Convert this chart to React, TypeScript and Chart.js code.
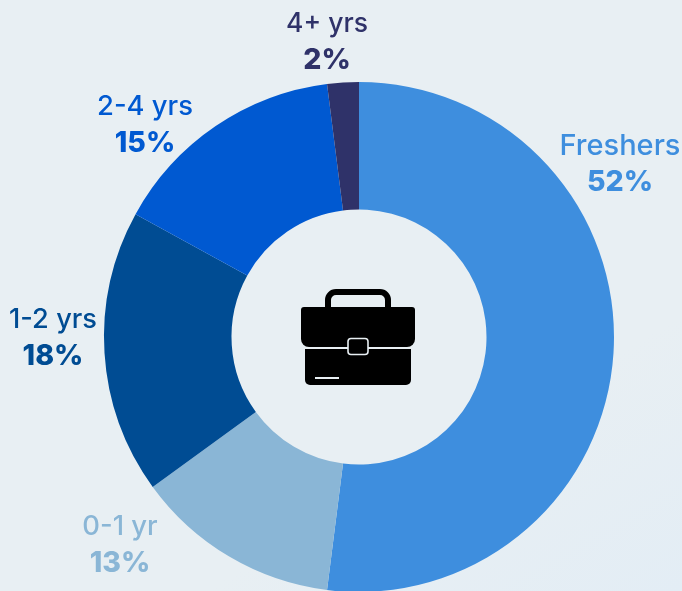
import React, { useEffect, useRef } from "react";
import { Chart, registerables, Plugin } from "chart.js";

Chart.register(...registerables);

const categories = ["Freshers", "0-1 yr", "1-2 yrs", "2-4 yrs", "4+ yrs"];
const shares = [52, 13, 18, 15, 2];
const sliceColors = ["#3E8EDE", "#8AB6D6", "#004C93", "#0059D1", "#2F3269"];

const FONT = '"Inter", "Noto Sans", sans-serif';
const labelCentres: Record<string, [number, number]> = {
  Freshers: [620, 146],
  "0-1 yr": [120, 527],
  "1-2 yrs": [53, 320],
  "2-4 yrs": [145, 107],
  "4+ yrs": [327, 24],
};
const labelSizes = [29, 27.4, 27.2, 27.4, 26.5];

const labelPlugin: Plugin<"doughnut"> = {
  id: "sliceLabels",
  afterDraw(chart) {
    const ctx = chart.ctx;
    ctx.save();
    ctx.textAlign = "center";
    ctx.textBaseline = "middle";
    categories.forEach((name, i) => {
      const [x, y] = labelCentres[name];
      ctx.fillStyle = sliceColors[i];
      ctx.font = `500 ${labelSizes[i]}px ${FONT}`;
      ctx.fillText(name, x, y);
      ctx.font = `800 28.5px ${FONT}`;
      ctx.fillText(`${shares[i]}%`, x, y + 36);
    });
    ctx.restore();
  },
};

const briefcasePlugin: Plugin<"doughnut"> = {
  id: "briefcase",
  afterDraw(chart) {
    const ctx = chart.ctx;
    ctx.save();
    ctx.fillStyle = "#000";
    ctx.strokeStyle = "#000";
    ctx.lineWidth = 6;
    ctx.beginPath();
    ctx.roundRect(328, 292, 60, 26, 8);
    ctx.stroke();
    ctx.beginPath();
    ctx.roundRect(301, 307, 114, 40, [3, 3, 8, 8]);
    ctx.fill();
    ctx.beginPath();
    ctx.roundRect(305, 349, 106, 36, [0, 0, 5, 5]);
    ctx.fill();
    ctx.fillStyle = "#E8EFF3";
    ctx.fillRect(305, 347, 106, 2);
    ctx.fillStyle = "#000";
    ctx.strokeStyle = "#E8EFF3";
    ctx.lineWidth = 1.6;
    ctx.beginPath();
    ctx.roundRect(348, 338.5, 20, 16, 3);
    ctx.fill();
    ctx.stroke();
    ctx.fillStyle = "#E8EFF3";
    ctx.fillRect(315, 377, 24, 2);
    ctx.restore();
  },
};

export default function App() {
  const ref = useRef<HTMLCanvasElement>(null);
  useEffect(() => {
    document.body.style.margin = "0";
    const chart = new Chart(ref.current!, {
      type: "doughnut",
      data: {
        labels: categories,
        datasets: [
          {
            data: shares,
            backgroundColor: sliceColors,
            borderWidth: 0,
          },
        ],
      },
      options: {
        animation: false,
        responsive: false,
        cutout: "50%",
        layout: { padding: { left: 104, right: 68, top: 82, bottom: 8 } },
        plugins: { legend: { display: false }, tooltip: { enabled: false } },
      },
      plugins: [labelPlugin, briefcasePlugin],
    });
    return () => chart.destroy();
  }, []);
  return (
    <div
      style={{
        position: "relative",
        width: 682,
        height: 591,
        overflow: "hidden",
        background: "linear-gradient(150deg, #E8EFF3 0%, #E8EFF3 72%, #E3EDF5 100%)",
      }}
    >
      <canvas ref={ref} width={682} height={600} style={{ display: "block" }} />
    </div>
  );
}
